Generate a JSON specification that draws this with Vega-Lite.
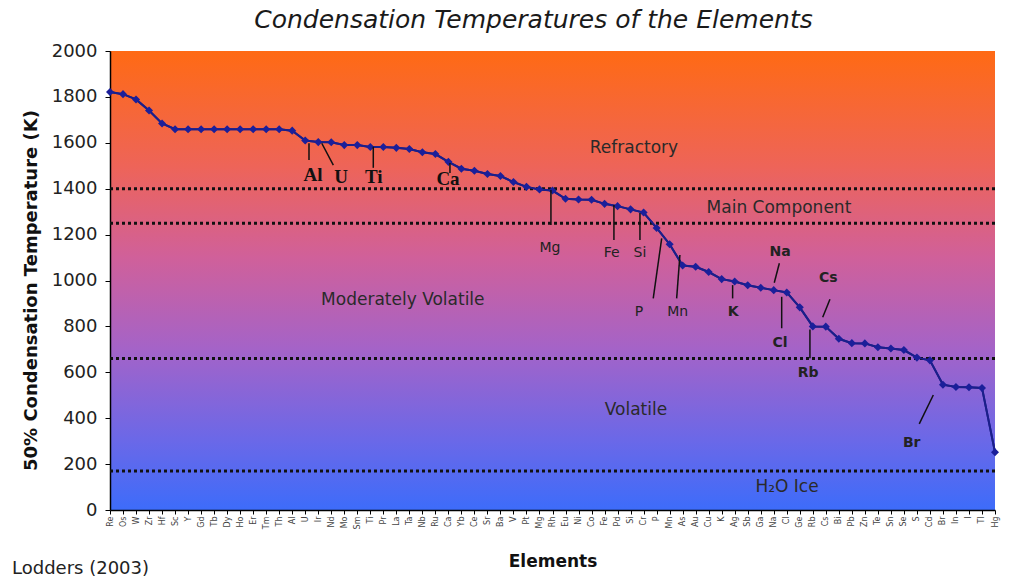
{
  "$schema": "https://vega.github.io/schema/vega-lite/v6.json",
  "width": 885,
  "height": 459,
  "autosize": {"type": "none"},
  "padding": {"left": 110, "top": 51, "right": 35, "bottom": 78},
  "background": "white",
  "title": {
    "text": "Condensation Temperatures of the Elements",
    "font": "DejaVu Sans",
    "fontSize": 25,
    "fontStyle": "italic",
    "fontWeight": "normal",
    "color": "#1a1a1a",
    "anchor": "middle",
    "frame": "group",
    "offset": 9,
    "dx": -19
  },
  "config": {
    "font": "DejaVu Sans",
    "axis": {"labelOverlap": false},
    "axisX": {"labelOverlap": false, "labelSeparation": 0},
    "view": {
      "stroke": null,
      "fill": {
        "gradient": "linear",
        "x1": 0, "y1": 0, "x2": 0, "y2": 1,
        "stops": [
          {"offset": 0, "color": "#FF6A14"},
          {"offset": 0.25, "color": "#EE6458"},
          {"offset": 0.45, "color": "#D0609A"},
          {"offset": 0.65, "color": "#A463C8"},
          {"offset": 0.85, "color": "#6A68E8"},
          {"offset": 1, "color": "#3D6CFA"}
        ]
      }
    }
  },
  "datasets": {
    "elements": [
      {"i": 1, "el": "Re", "t": 1821}, {"i": 2, "el": "Os", "t": 1812}, {"i": 3, "el": "W", "t": 1789},
      {"i": 4, "el": "Zr", "t": 1741}, {"i": 5, "el": "Hf", "t": 1684}, {"i": 6, "el": "Sc", "t": 1659},
      {"i": 7, "el": "Y", "t": 1659}, {"i": 8, "el": "Gd", "t": 1659}, {"i": 9, "el": "Tb", "t": 1659},
      {"i": 10, "el": "Dy", "t": 1659}, {"i": 11, "el": "Ho", "t": 1659}, {"i": 12, "el": "Er", "t": 1659},
      {"i": 13, "el": "Tm", "t": 1659}, {"i": 14, "el": "Th", "t": 1659}, {"i": 15, "el": "Al", "t": 1653},
      {"i": 16, "el": "U", "t": 1610}, {"i": 17, "el": "Ir", "t": 1603}, {"i": 18, "el": "Nd", "t": 1602},
      {"i": 19, "el": "Mo", "t": 1590}, {"i": 20, "el": "Sm", "t": 1590}, {"i": 21, "el": "Ti", "t": 1582},
      {"i": 22, "el": "Pr", "t": 1582}, {"i": 23, "el": "La", "t": 1578}, {"i": 24, "el": "Ta", "t": 1573},
      {"i": 25, "el": "Nb", "t": 1559}, {"i": 26, "el": "Ru", "t": 1551}, {"i": 27, "el": "Ca", "t": 1517},
      {"i": 28, "el": "Yb", "t": 1487}, {"i": 29, "el": "Ce", "t": 1478}, {"i": 30, "el": "Sr", "t": 1464},
      {"i": 31, "el": "Ba", "t": 1455}, {"i": 32, "el": "V", "t": 1429}, {"i": 33, "el": "Pt", "t": 1408},
      {"i": 34, "el": "Mg", "t": 1397}, {"i": 35, "el": "Rh", "t": 1392}, {"i": 36, "el": "Eu", "t": 1356},
      {"i": 37, "el": "Ni", "t": 1353}, {"i": 38, "el": "Co", "t": 1352}, {"i": 39, "el": "Fe", "t": 1334},
      {"i": 40, "el": "Pd", "t": 1324}, {"i": 41, "el": "Si", "t": 1310}, {"i": 42, "el": "Cr", "t": 1296},
      {"i": 43, "el": "P", "t": 1229}, {"i": 44, "el": "Mn", "t": 1158}, {"i": 45, "el": "As", "t": 1065},
      {"i": 46, "el": "Au", "t": 1060}, {"i": 47, "el": "Cu", "t": 1037}, {"i": 48, "el": "K", "t": 1006},
      {"i": 49, "el": "Ag", "t": 996}, {"i": 50, "el": "Sb", "t": 979}, {"i": 51, "el": "Ga", "t": 968},
      {"i": 52, "el": "Na", "t": 958}, {"i": 53, "el": "Cl", "t": 948}, {"i": 54, "el": "Ge", "t": 883},
      {"i": 55, "el": "Rb", "t": 800}, {"i": 56, "el": "Cs", "t": 799}, {"i": 57, "el": "Bi", "t": 746},
      {"i": 58, "el": "Pb", "t": 727}, {"i": 59, "el": "Zn", "t": 726}, {"i": 60, "el": "Te", "t": 709},
      {"i": 61, "el": "Sn", "t": 704}, {"i": 62, "el": "Se", "t": 697}, {"i": 63, "el": "S", "t": 664},
      {"i": 64, "el": "Cd", "t": 652}, {"i": 65, "el": "Br", "t": 546}, {"i": 66, "el": "In", "t": 536},
      {"i": 67, "el": "I", "t": 535}, {"i": 68, "el": "Tl", "t": 532}, {"i": 69, "el": "Hg", "t": 252}
    ],
    "boundaries": [{"t": 1400}, {"t": 1250}, {"t": 660}, {"t": 170}],
    "regions": [
      {"txt": "Refractory", "x": 41.26, "y": 1577},
      {"txt": "Main Component", "x": 52.4, "y": 1316},
      {"txt": "Moderately Volatile", "x": 23.5, "y": 915},
      {"txt": "Volatile", "x": 41.41, "y": 436},
      {"txt": "H₂O Ice", "x": 53.02, "y": 100}
    ],
    "leaders": [
      {"x": 16.29, "y": 1598, "x2": 16.29, "y2": 1525},
      {"x": 17.27, "y": 1598, "x2": 18.16, "y2": 1503},
      {"x": 21.23, "y": 1583, "x2": 21.23, "y2": 1491},
      {"x": 27.12, "y": 1512, "x2": 27.12, "y2": 1468},
      {"x": 34.88, "y": 1394, "x2": 34.88, "y2": 1242},
      {"x": 39.72, "y": 1329, "x2": 39.72, "y2": 1176},
      {"x": 41.72, "y": 1294, "x2": 41.72, "y2": 1176},
      {"x": 43.39, "y": 1184, "x2": 42.74, "y2": 922},
      {"x": 44.79, "y": 1111, "x2": 44.54, "y2": 922},
      {"x": 48.84, "y": 980, "x2": 48.84, "y2": 922},
      {"x": 52.43, "y": 1075, "x2": 52.04, "y2": 990},
      {"x": 52.61, "y": 929, "x2": 52.61, "y2": 792},
      {"x": 56.32, "y": 918, "x2": 55.76, "y2": 840},
      {"x": 54.78, "y": 787, "x2": 54.78, "y2": 661},
      {"x": 64.26, "y": 501, "x2": 63.18, "y2": 375}
    ],
    "serifLabels": [
      {"txt": "Al", "x": 16.6, "y": 1460},
      {"txt": "U", "x": 18.75, "y": 1451},
      {"txt": "Ti", "x": 21.27, "y": 1449},
      {"txt": "Ca", "x": 26.97, "y": 1442}
    ],
    "plainLabels": [
      {"txt": "Mg", "x": 34.81, "y": 1142},
      {"txt": "Fe", "x": 39.55, "y": 1118},
      {"txt": "Si", "x": 41.72, "y": 1118},
      {"txt": "P", "x": 41.65, "y": 864},
      {"txt": "Mn", "x": 44.62, "y": 864}
    ],
    "boldLabels": [
      {"txt": "K", "x": 48.89, "y": 864},
      {"txt": "Na", "x": 52.48, "y": 1125},
      {"txt": "Cl", "x": 52.48, "y": 726},
      {"txt": "Cs", "x": 56.19, "y": 1010},
      {"txt": "Rb", "x": 54.65, "y": 596},
      {"txt": "Br", "x": 62.6, "y": 291}
    ],
    "note": [{"txt": "Lodders (2003)"}]
  },
  "layer": [
    {
      "data": {"name": "elements"},
      "mark": {"type": "line", "color": "#1B1F8A", "strokeWidth": 2},
      "encoding": {
        "x": {
          "field": "i", "type": "quantitative",
          "scale": {"domain": [1, 69], "nice": false, "zero": false},
          "axis": {
            "title": "Elements",
            "values": [1,2,3,4,5,6,7,8,9,10,11,12,13,14,15,16,17,18,19,20,21,22,23,24,25,26,27,28,29,30,31,32,33,34,35,36,37,38,39,40,41,42,43,44,45,46,47,48,49,50,51,52,53,54,55,56,57,58,59,60,61,62,63,64,65,66,67,68,69],
            "tickCount": 100,
            "labelExpr": "['Re','Os','W','Zr','Hf','Sc','Y','Gd','Tb','Dy','Ho','Er','Tm','Th','Al','U','Ir','Nd','Mo','Sm','Ti','Pr','La','Ta','Nb','Ru','Ca','Yb','Ce','Sr','Ba','V','Pt','Mg','Rh','Eu','Ni','Co','Fe','Pd','Si','Cr','P','Mn','As','Au','Cu','K','Ag','Sb','Ga','Na','Cl','Ge','Rb','Cs','Bi','Pb','Zn','Te','Sn','Se','S','Cd','Br','In','I','Tl','Hg'][datum.value - 1]",
            "labelAngle": 270,
            "labelFontSize": 8,
            "labelColor": "#444",
            "labelPadding": 2,
            "labelOverlap": false,
            "labelSeparation": 0,
            "labelFlush": false,
            "grid": false,
            "domainColor": "#000",
            "domainWidth": 1.5,
            "tickColor": "#000",
            "tickSize": 4,
            "titleFont": "DejaVu Sans",
            "titleFontSize": 17,
            "titleFontWeight": "bold",
            "titleColor": "#111",
            "titleBaseline": "alphabetic",
            "titleY": 56
          }
        },
        "y": {
          "field": "t", "type": "quantitative",
          "scale": {"domain": [0, 2000], "nice": false},
          "axis": {
            "title": "50% Condensation Temperature (K)",
            "values": [0, 200, 400, 600, 800, 1000, 1200, 1400, 1600, 1800, 2000],
            "format": "d",
            "grid": false,
            "domainColor": "#000",
            "domainWidth": 1.5,
            "tickColor": "#000",
            "tickSize": 5,
            "labelFont": "DejaVu Sans",
            "labelFontSize": 18,
            "labelColor": "#222",
            "labelPadding": 8,
            "titleFont": "DejaVu Sans",
            "titleFontSize": 18,
            "titleFontWeight": "bold",
            "titleColor": "#111",
            "titleX": -70,
            "titleY": 239
          }
        }
      }
    },
    {
      "data": {"name": "boundaries"},
      "mark": {"type": "rule", "color": "#111", "strokeWidth": 3, "strokeDash": [3, 3]},
      "encoding": {
        "y": {"field": "t", "type": "quantitative", "title": "50% Condensation Temperature (K)"}
      }
    },
    {
      "data": {"name": "elements"},
      "mark": {"type": "line", "color": "#1B1F8A", "strokeWidth": 2},
      "encoding": {
        "x": {"field": "i", "type": "quantitative", "title": "Elements"},
        "y": {"field": "t", "type": "quantitative", "title": "50% Condensation Temperature (K)"}
      }
    },
    {
      "data": {"name": "elements"},
      "mark": {"type": "point", "shape": "diamond", "filled": true, "color": "#1B1F9A", "size": 65, "opacity": 1},
      "encoding": {
        "x": {"field": "i", "type": "quantitative", "title": "Elements"},
        "y": {"field": "t", "type": "quantitative", "title": "50% Condensation Temperature (K)"}
      }
    },
    {
      "data": {"name": "leaders"},
      "mark": {"type": "rule", "color": "#111", "strokeWidth": 1.5},
      "encoding": {
        "x": {"field": "x", "type": "quantitative", "title": "Elements"},
        "y": {"field": "y", "type": "quantitative", "title": "50% Condensation Temperature (K)"},
        "x2": {"field": "x2"},
        "y2": {"field": "y2"}
      }
    },
    {
      "data": {"name": "regions"},
      "mark": {"type": "text", "font": "DejaVu Sans", "fontSize": 17, "color": "#2a2a2a", "align": "center", "baseline": "middle"},
      "encoding": {
        "x": {"field": "x", "type": "quantitative", "title": "Elements"},
        "y": {"field": "y", "type": "quantitative", "title": "50% Condensation Temperature (K)"},
        "text": {"field": "txt"}
      }
    },
    {
      "data": {"name": "serifLabels"},
      "mark": {"type": "text", "font": "Liberation Serif", "fontWeight": "bold", "fontSize": 19, "color": "#111", "align": "center", "baseline": "middle"},
      "encoding": {
        "x": {"field": "x", "type": "quantitative", "title": "Elements"},
        "y": {"field": "y", "type": "quantitative", "title": "50% Condensation Temperature (K)"},
        "text": {"field": "txt"}
      }
    },
    {
      "data": {"name": "plainLabels"},
      "mark": {"type": "text", "font": "DejaVu Sans", "fontSize": 14, "color": "#222", "align": "center", "baseline": "middle"},
      "encoding": {
        "x": {"field": "x", "type": "quantitative", "title": "Elements"},
        "y": {"field": "y", "type": "quantitative", "title": "50% Condensation Temperature (K)"},
        "text": {"field": "txt"}
      }
    },
    {
      "data": {"name": "boldLabels"},
      "mark": {"type": "text", "font": "DejaVu Sans", "fontWeight": "bold", "fontSize": 14, "color": "#222", "align": "center", "baseline": "middle"},
      "encoding": {
        "x": {"field": "x", "type": "quantitative", "title": "Elements"},
        "y": {"field": "y", "type": "quantitative", "title": "50% Condensation Temperature (K)"},
        "text": {"field": "txt"}
      }
    },
    {
      "data": {"name": "note"},
      "mark": {"type": "text", "font": "DejaVu Sans", "fontSize": 18, "color": "#222", "align": "left", "baseline": "alphabetic", "dx": -98, "dy": 64},
      "encoding": {
        "x": {"datum": 1, "type": "quantitative"},
        "y": {"datum": 0, "type": "quantitative"},
        "text": {"field": "txt"}
      }
    }
  ]
}
